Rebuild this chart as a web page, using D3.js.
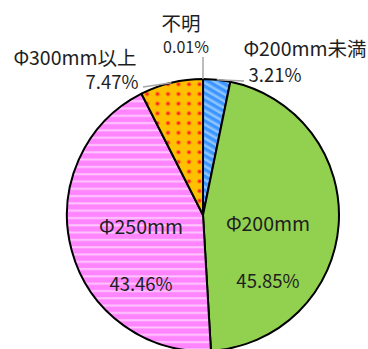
<!DOCTYPE html>
<html>
<head>
<meta charset="utf-8">
<script src="https://cdn.jsdelivr.net/npm/d3@7"></script>
<style>
  body { margin: 0; background: #fff; }
  text { font-family: "Noto Sans CJK JP", "Noto Sans", sans-serif; fill: #1e1e1e; }
</style>
</head>
<body>
<div class="chart-pie"><svg></svg></div>
<script>
// データ
const categories = ['不明', 'Φ200mm未満', 'Φ200mm', 'Φ250mm', 'Φ300mm以上'];
const values = [0.01, 3.21, 45.85, 43.46, 7.47];
const pctLabels = ['0.01%', '3.21%', '45.85%', '43.46%', '7.47%'];

const pieChart = () => {
    const width = 368;
    const height = 349;
    const cx = 203, cy = 215, radius = 136;

    const svg = d3.select('.chart-pie svg')
        .attr('width', width)
        .attr('height', height);

    //パターン定義
    const defs = svg.append('defs');

    const blue = defs.append('pattern')
        .attr('id', 'pat-blue')
        .attr('patternUnits', 'userSpaceOnUse')
        .attr('width', 6).attr('height', 6)
        .attr('patternTransform', 'rotate(-60)');
    blue.append('rect').attr('width', 6).attr('height', 6).attr('fill', '#3d96ff');
    blue.append('rect').attr('width', 2.6).attr('height', 6).attr('fill', '#8cc4ff');

    const pink = defs.append('pattern')
        .attr('id', 'pat-pink')
        .attr('patternUnits', 'userSpaceOnUse')
        .attr('width', 8).attr('height', 7.3);
    pink.append('rect').attr('width', 8).attr('height', 7.3).attr('fill', '#ff85ff');
    pink.append('rect').attr('y', 2).attr('width', 8).attr('height', 2).attr('fill', '#ffc6ff');

    const orange = defs.append('pattern')
        .attr('id', 'pat-orange')
        .attr('patternUnits', 'userSpaceOnUse')
        .attr('x', 2).attr('y', 0)
        .attr('width', 10.5).attr('height', 9.7);
    orange.append('rect').attr('width', 10.5).attr('height', 9.7).attr('fill', '#ffc000');
    orange.append('circle').attr('cx', 5).attr('cy', 5).attr('r', 2.2).attr('fill', '#ff6a1a');
    orange.append('circle').attr('cx', 5).attr('cy', 5).attr('r', 1.2).attr('fill', '#ff1a1a');

    const fills = ['#3d96ff', 'url(#pat-blue)', '#92d050', 'url(#pat-pink)', 'url(#pat-orange)'];

    const pie = d3.pie().sort(null).value(d => d.value);
    const arc = d3.arc().innerRadius(0).outerRadius(radius);

    const data = categories.map((c, i) => ({ name: c, value: values[i], pct: pctLabels[i] }));
    const arcs = pie(data);

    const g = svg.append('g').attr('transform', `translate(${cx},${cy})`);

    g.selectAll('.slice')
        .data(arcs)
        .enter()
        .append('path')
        .attr('class', 'slice')
        .attr('d', arc)
        .attr('fill', (d, i) => fills[i])
        .attr('stroke', '#000')
        .attr('stroke-width', 2)
        .attr('stroke-linejoin', 'round');

    //引き出し線
    const edge = (d, r) => {
        const a = (d.startAngle + d.endAngle) / 2;
        return [r * Math.sin(a), -r * Math.cos(a)];
    };
    const leaders = [
        { i: 0, to: [0, -158] },
        { i: 1, to: [41, -134] },
        { i: 4, to: [-60, -128] }
    ];
    g.selectAll('.leader')
        .data(leaders)
        .enter()
        .append('polyline')
        .attr('class', 'leader')
        .attr('points', d => {
            const p = edge(arcs[d.i], radius);
            return [p, d.to].map(q => q.join(',')).join(' ');
        })
        .attr('fill', 'none')
        .attr('stroke', '#a6a6a6')
        .attr('stroke-width', 1.5);

    //ラベル (名前と割合)
    const labelPos = [
        { name: [-22, -193], pct: [-17, -169] },
        { name: [102, -168], pct: [72, -141] },
        { name: [65, 7], pct: [65, 65] },
        { name: [-62, 10], pct: [-62, 68] },
        { name: [-128, -159], pct: [-91, -134] }
    ];

    const labels = g.selectAll('.label')
        .data(arcs)
        .enter()
        .append('g')
        .attr('class', 'label');

    labels.append('text')
        .attr('x', (d, i) => labelPos[i].name[0])
        .attr('y', (d, i) => labelPos[i].name[1])
        .attr('text-anchor', 'middle')
        .attr('dominant-baseline', 'central')
        .attr('font-size', 19.5)
        .text(d => d.data.name);

    labels.append('text')
        .attr('x', (d, i) => labelPos[i].pct[0])
        .attr('y', (d, i) => labelPos[i].pct[1])
        .attr('text-anchor', 'middle')
        .attr('dominant-baseline', 'central')
        .attr('font-size', (d, i) => i === 0 ? 16 : 18.5)
        .text(d => d.data.pct);
};

pieChart();
</script>
</body>
</html>
